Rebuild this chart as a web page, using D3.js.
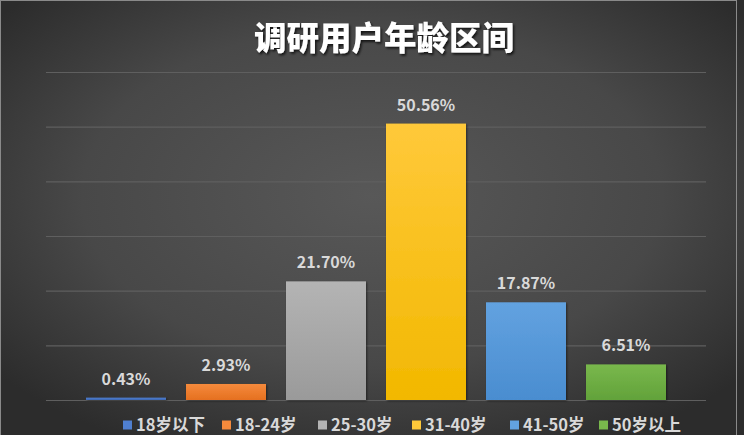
<!DOCTYPE html>
<html><head><meta charset="utf-8">
<script src="https://cdn.jsdelivr.net/npm/d3@7"></script>
<style>html,body{margin:0;padding:0;background:#2b2b2b;overflow:hidden}</style>
</head><body>
<svg id="c" width="744" height="435"></svg>
<script>
const categories = ["18岁以下","18-24岁","25-30岁","31-40岁","41-50岁","50岁以上"];
const values = [0.43, 2.93, 21.70, 50.56, 17.87, 6.51];
const labels = ["0.43%","2.93%","21.70%","50.56%","17.87%","6.51%"];
const yTicks = [0,10,20,30,40,50,60];
const colors = [["#4f7fd0","#3d67b3"],["#f58a3c","#e57020"],["#b4b4b4","#9a9a9a"],["#ffc93a","#f2b800"],["#62a2e0","#4a8dd0"],["#79b84c","#62a23a"]];
const title = "调研用户年龄区间";

const svg = d3.select("#c");
const W=744,H=435;
const defs = svg.append("defs");
const bg = defs.append("radialGradient").attr("id","bg").attr("cx","50%").attr("cy","45%").attr("r","65%");
bg.append("stop").attr("offset","0%").attr("stop-color","#585858");
bg.append("stop").attr("offset","60%").attr("stop-color","#484848");
bg.append("stop").attr("offset","100%").attr("stop-color","#2c2c2c");
colors.forEach((c,i)=>{
  const g=defs.append("linearGradient").attr("id","g"+i).attr("x1",0).attr("x2",0).attr("y1",0).attr("y2",1);
  g.append("stop").attr("offset","0%").attr("stop-color",c[0]);
  g.append("stop").attr("offset","100%").attr("stop-color",c[1]);
});
const sh = defs.append("filter").attr("id","ts").attr("x","-10%").attr("y","-20%").attr("width","120%").attr("height","150%");
sh.append("feDropShadow").attr("dx",1.5).attr("dy",2).attr("stdDeviation",1.2).attr("flood-color","#000").attr("flood-opacity",0.7);
const bs = defs.append("filter").attr("id","bs").attr("x","-10%").attr("y","-10%").attr("width","130%").attr("height","130%");
bs.append("feDropShadow").attr("dx",1).attr("dy",1).attr("stdDeviation",1).attr("flood-color","#000").attr("flood-opacity",0.5);

svg.append("rect").attr("width",W).attr("height",H).attr("fill","url(#bg)");
svg.append("rect").attr("x",0.5).attr("y",0.5).attr("width",736).attr("height",440).attr("fill","none").attr("stroke","#8a8a8a").attr("stroke-width",1);

const x = d3.scaleBand().domain(categories).range([76,676]).paddingInner(0.2).paddingOuter(0.1);
const y = d3.scaleLinear().domain([0,60]).range([400,72]);

const grid = svg.append("g").attr("transform","translate(46,0)")
  .call(d3.axisLeft(y).tickValues(yTicks).tickSize(-660).tickFormat(""));
grid.select(".domain").remove();
grid.selectAll(".tick line").attr("stroke","#5f5f5f").attr("stroke-width",1.2);

svg.append("g").selectAll("rect").data(values).join("rect")
  .attr("x",(d,i)=>x(categories[i]))
  .attr("y",d=>y(d))
  .attr("width",x.bandwidth())
  .attr("height",d=>y(0)-y(d))
  .attr("fill",(d,i)=>`url(#g${i})`)
  .attr("filter","url(#bs)");

svg.append("g").selectAll("text").data(values).join("text")
  .attr("x",(d,i)=>x(categories[i])+x.bandwidth()/2)
  .attr("y",d=>y(d)-13)
  .attr("text-anchor","middle")
  .attr("fill","#d9d9d9")
  .attr("font-family","'Noto Sans CJK SC','Open Sans',sans-serif")
  .attr("font-weight","bold").attr("font-size","16px")
  .text((d,i)=>labels[i]);

svg.append("text").attr("x",384).attr("y",50).attr("text-anchor","middle")
  .attr("fill","#ffffff").attr("font-family","'Noto Sans CJK SC',sans-serif")
  .attr("font-weight","900").attr("font-size","32.5px").attr("filter","url(#ts)")
  .text(title);

const legX = [123,222,318,412,510,599];
const leg = svg.append("g").selectAll("g").data(categories).join("g")
  .attr("transform",(d,i)=>`translate(${legX[i]},425)`);
leg.append("rect").attr("x",0).attr("y",-4.5).attr("width",9).attr("height",9)
  .attr("fill",(d,i)=>colors[i][0]);
leg.append("text").attr("x",13).attr("y",5.5).attr("fill","#d9d9d9")
  .attr("font-family","'Noto Sans CJK SC',sans-serif").attr("font-weight","bold").attr("font-size","16.5px")
  .text(d=>d);
</script>
</body></html>
